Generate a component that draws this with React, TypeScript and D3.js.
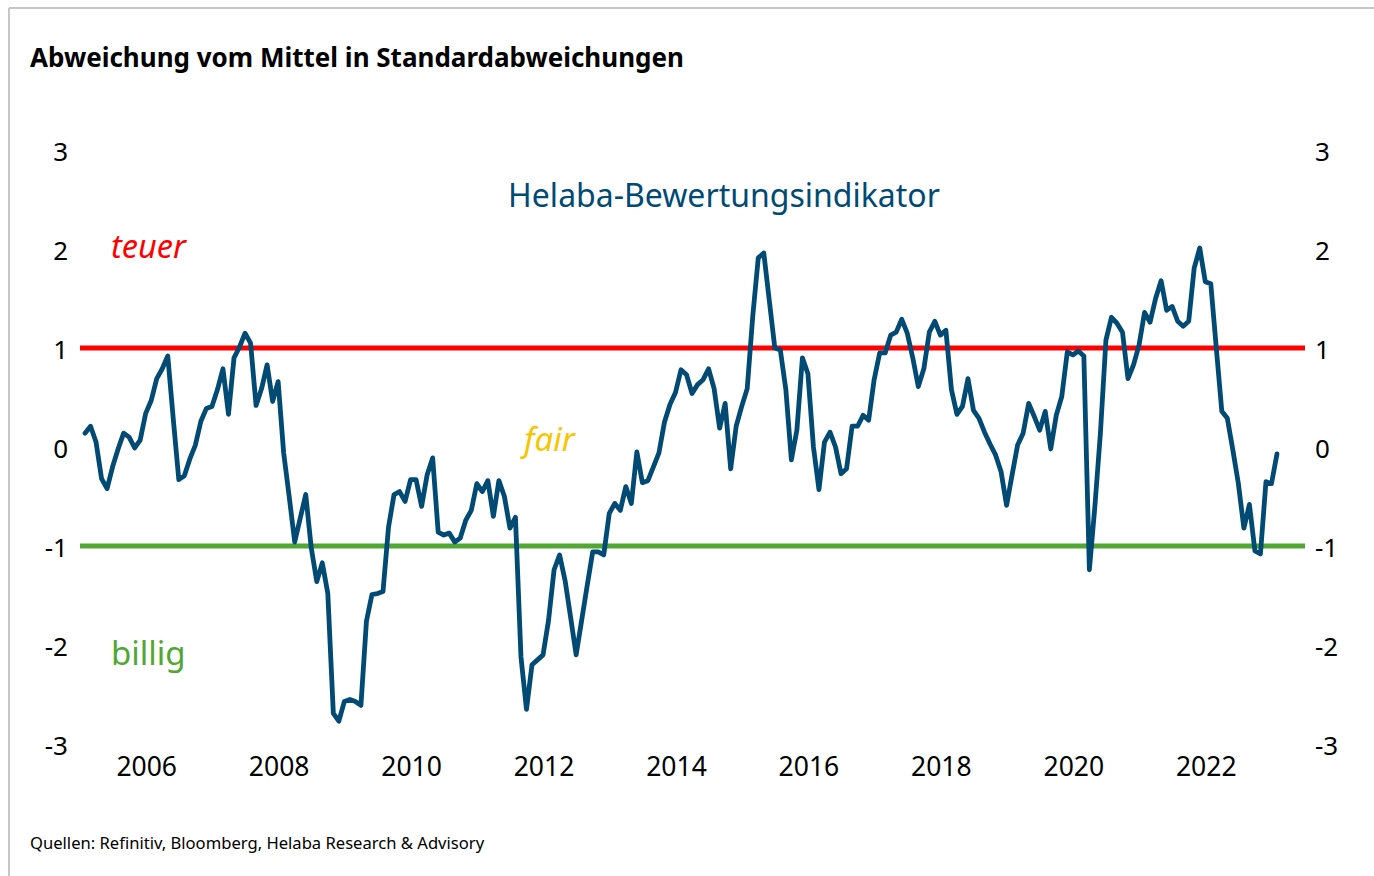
import React from "react";
import * as d3 from "d3";

// Monthly values, Feb 2005 .. Feb 2023 (deviation from mean in standard deviations)
const startYear = 2005;
const startMonth = 2; // February
const values: number[] = [
  0.14, 0.21, 0.05, -0.32, -0.42, -0.2, -0.02, 0.14, 0.1, -0.01, 0.07, 0.34,
  0.47, 0.69, 0.79, 0.92, 0.28, -0.33, -0.29, -0.12, 0.02, 0.26, 0.39, 0.41,
  0.58, 0.79, 0.33, 0.9, 1.01, 1.15, 1.05, 0.42, 0.59, 0.83, 0.46, 0.66,
  -0.06, -0.5, -0.96, -0.72, -0.48, -1.02, -1.36, -1.17, -1.48, -2.69, -2.77, -2.57,
  -2.55, -2.57, -2.61, -1.76, -1.49, -1.48, -1.46, -0.81, -0.48, -0.45, -0.55, -0.33,
  -0.33, -0.6, -0.28, -0.11, -0.86, -0.89, -0.87, -0.96, -0.92, -0.74, -0.64, -0.37,
  -0.45, -0.34, -0.7, -0.34, -0.5, -0.82, -0.71, -2.12, -2.65, -2.2, -2.15, -2.1,
  -1.75, -1.24, -1.09, -1.35, -1.72, -2.1, -1.75, -1.4, -1.06, -1.06, -1.09, -0.67,
  -0.57, -0.64, -0.4, -0.57, -0.05, -0.36, -0.34, -0.2, -0.06, 0.25, 0.43, 0.55,
  0.78, 0.73, 0.54, 0.63, 0.68, 0.79, 0.59, 0.19, 0.44, -0.22, 0.21, 0.41,
  0.59, 1.32, 1.91, 1.96, 1.48, 1.0, 0.98, 0.58, -0.13, 0.17, 0.9, 0.74,
  0.0, -0.43, 0.05, 0.15, 0.0, -0.27, -0.22, 0.21, 0.21, 0.32, 0.27, 0.68,
  0.95, 0.95, 1.13, 1.16, 1.29, 1.15, 0.9, 0.61, 0.79, 1.16, 1.27, 1.13,
  1.18, 0.58, 0.33, 0.41, 0.69, 0.37, 0.29, 0.15, 0.03, -0.08, -0.25, -0.59,
  -0.28, 0.02, 0.14, 0.44, 0.31, 0.17, 0.36, -0.02, 0.32, 0.51, 0.96, 0.93,
  0.97, 0.92, -1.24, -0.6, 0.14, 1.08, 1.31, 1.25, 1.16, 0.69, 0.83, 1.03,
  1.36, 1.26, 1.5, 1.68, 1.38, 1.42, 1.27, 1.22, 1.27, 1.81, 2.01, 1.67,
  1.65, 1.0, 0.36, 0.29, -0.03, -0.37, -0.82, -0.58, -1.05, -1.08, -0.35, -0.37,
  -0.07,
];

const yearTicks: number[] = [2006, 2008, 2010, 2012, 2014, 2016, 2018, 2020, 2022];
const yTicks: number[] = [3, 2, 1, 0, -1, -2, -3];
const thresholdHigh = 1;
const thresholdLow = -1;

const title = "Abweichung vom Mittel in Standardabweichungen";
const seriesLabel = "Helaba-Bewertungsindikator";
const source = "Quellen: Refinitiv, Bloomberg, Helaba Research & Advisory";

const BLUE = "#004a74";
const RED = "#ff0000";
const GREEN = "#50a733";
const GOLD = "#f7c600";
const FONT = "'Noto Sans', 'Open Sans', sans-serif";

// month index relative to January 2005 (Jan 2005 = 0)
const monthIdx = (i: number) => startMonth - 1 + i;

export default function App() {
  const W = 1374;
  const H = 876;
  const x = d3
    .scaleLinear()
    .domain([monthIdx(0), monthIdx(values.length - 1)])
    .range([85, 1277]);
  const y = d3.scaleLinear().domain([-3, 3]).range([744, 150]);

  const line = d3
    .line<number>()
    .x((_, i) => x(monthIdx(i)))
    .y((d) => y(d))
    .curve(d3.curveLinear);

  const yearX = (yr: number) => x((yr - startYear) * 12);

  return (
    <svg
      width={W}
      height={H}
      style={{ position: "absolute", left: 0, top: 0, background: "#fff" }}
      fontFamily={FONT}
    >
      <rect x={0} y={0} width={W} height={H} fill="#fff" />
      {/* frame */}
      <line x1={9} y1={8} x2={W} y2={8} stroke="#c6c6c6" strokeWidth={2} />
      <line x1={9} y1={8} x2={9} y2={H} stroke="#c6c6c6" strokeWidth={2} />

      <text x={30} y={67} fontSize={26} fontWeight="bold" fill="#000">
        {title}
      </text>

      {/* y tick labels left and right */}
      {yTicks.map((t) => (
        <text key={"l" + t} x={68} y={y(t) + 11} fontSize={26} textAnchor="end" fill="#000">
          {t}
        </text>
      ))}
      {yTicks.map((t) => (
        <text key={"r" + t} x={1315} y={y(t) + 11} fontSize={26} textAnchor="start" fill="#000">
          {t}
        </text>
      ))}

      {/* x tick labels */}
      {yearTicks.map((yr) => (
        <text key={yr} x={yearX(yr) + 1} y={776} fontSize={26.5} textAnchor="middle" fill="#000">
          {yr}
        </text>
      ))}

      {/* threshold lines */}
      <line x1={80} x2={1305} y1={y(thresholdHigh)} y2={y(thresholdHigh)} stroke={RED} strokeWidth={5} />
      <line x1={80} x2={1305} y1={y(thresholdLow)} y2={y(thresholdLow)} stroke={GREEN} strokeWidth={5} />

      {/* annotations */}
      <text x={724} y={207} fontSize={32} textAnchor="middle" fill={BLUE}>
        {seriesLabel}
      </text>
      <text x={111} y={258} fontSize={32.5} fontStyle="italic" fill={RED}>
        teuer
      </text>
      <text x={524} y={451} fontSize={33} fontStyle="italic" fill={GOLD}>
        fair
      </text>
      <text x={111} y={665} fontSize={33} fill={GREEN}>
        billig
      </text>

      <path d={line(values) || ""} fill="none" stroke={BLUE} strokeWidth={4.8} strokeLinejoin="round" strokeLinecap="round" />

      <text x={30} y={849} fontSize={16.6} fill="#000">
        {source}
      </text>
    </svg>
  );
}
